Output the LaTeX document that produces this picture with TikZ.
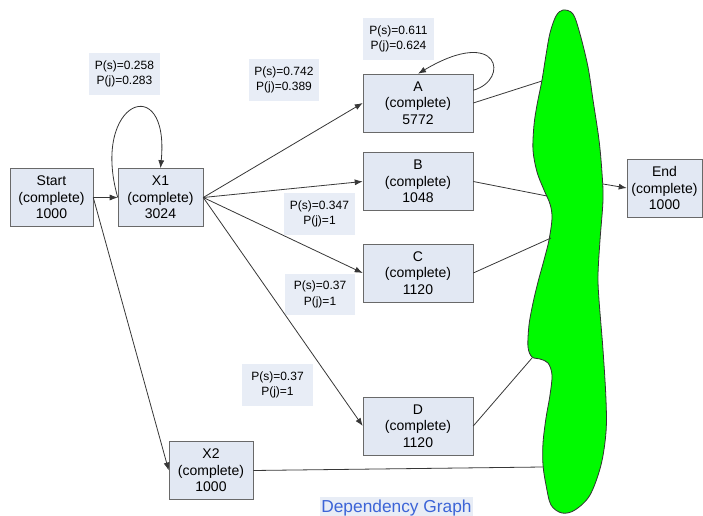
\documentclass[tikz,border=0pt]{standalone}
\usepackage{fontspec}
\setmainfont{Liberation Sans}
\usepackage{tikz}
\usetikzlibrary{arrows.meta,positioning}
\definecolor{boxfill}{RGB}{226,232,243}
\definecolor{notefill}{RGB}{232,237,246}
\definecolor{boxline}{RGB}{105,105,105}
\definecolor{edgegray}{RGB}{55,55,55}
\definecolor{titleblue}{RGB}{60,100,215}
\definecolor{blobgreen}{RGB}{0,250,0}

\begin{document}
\begin{tikzpicture}[
		x=0.75pt, y=-0.75pt,
		font=\fontsize{10.5}{12.5}\selectfont,
		task/.style={draw=boxline, fill=boxfill, align=center, minimum width=82.5pt, minimum height=43.5pt, inner sep=1pt},
		note/.style={fill=notefill, align=center, font=\fontsize{9}{11.5}\selectfont, minimum width=53pt, minimum height=31pt, inner sep=1pt},
		flow/.style={->, draw=edgegray, line width=0.6pt, >={Latex[length=6pt,width=4.5pt]}},
		blobline/.style={draw=edgegray, line width=0.6pt}
		]
		\useasboundingbox (0,0) rectangle (703,516);
		
		% Join region
		\filldraw[fill=blobgreen, draw=black!80, line width=0.6pt] plot[smooth cycle, tension=0.55] coordinates {
			(563,10) (573,14) (580,34) (588,67) (593,100) (599,140) (602,173) (603,200)
			(600,240) (598,275) (599,300) (603,350) (606,400) (606,432) (601,465) (590,495)
			(575,510) (562,513) (551,505) (546,485) (543,465) (543,443) (546,418) (550,395)
			(552,375) (548,363) (540,359) (532,357) (528,347) (529,325) (533,303) (538,282)
			(544,260) (549,240) (552,218) (550,204) (544,190) (537,172) (533,150) (534,125)
			(537,105) (542,80) (546,55) (550,33) (556,16)};
		\coordinate (gA) at (542,81);
		\coordinate (gB) at (547,196);
		\coordinate (gC) at (551,238);
		\coordinate (gD) at (532,358);
		\coordinate (gX2) at (543,467);
		\coordinate (gEnd) at (603,184);
		
		% Jobs
		\node[task, minimum width=62.25pt] (start) at (51.5,197.5) {Start\\(complete)\\1000};
		\node[task, minimum width=63.75pt] (X1) at (160.5,197.5) {X1\\(complete)\\3024};
		\node[task] (A) at (418,103) {A\\(complete)\\5772};
		\node[task] (B) at (418,181.5) {B\\(complete)\\1048};
		\node[task] (C) at (418,273) {C\\(complete)\\1120};
		\node[task] (D) at (418,426) {D\\(complete)\\1120};
		\node[task, minimum width=63pt] (X2) at (211,470.5) {X2\\(complete)\\1000};
		\node[task, minimum width=56.25pt] (End) at (664.5,188) {End\\(complete)\\1000};
		
		% Probabilities
		\node[note] (pX1) at (124.5,74) {P(s)=0.258\\P(j)=0.283};
		\node[note] (pA) at (284,80) {P(s)=0.742\\P(j)=0.389};
		\node[note] (pAA) at (398.5,39) {P(s)=0.611\\P(j)=0.624};
		\node[note] (pC) at (319.5,214) {P(s)=0.347\\P(j)=1};
		\node[note] (pD) at (320,294.5) {P(s)=0.37\\P(j)=1};
		\node[note] (pX2) at (277.5,385) {P(s)=0.37\\P(j)=1};
		\node[note, text=titleblue, font=\fontsize{13}{15}\selectfont, minimum width=114.75pt, minimum height=16.5pt] (title) at (396.5,508) {Dependency Graph};
		
		% Edges
		\draw[flow] (start) -- (X1);
		\draw[flow] (start.east) -- (X2.west);
		\draw[flow] (X1.east) -- (A.west);
		\draw[flow] (X1.east) -- (B.west);
		\draw[flow] (X1.east) -- (C.west);
		\draw[flow] (X1.east) -- (D.west);
		\draw[flow] (X1.west) .. controls (90,100) and (170,70) .. (X1.north);
		\draw[flow] (A.13) .. controls (510,80) and (500,25) .. (A.north);
		\draw[blobline] (A.east) -- (gA);
		\draw[blobline] (B.east) -- (gB);
		\draw[blobline] (C.east) -- (gC);
		\draw[blobline] (D.east) -- (gD);
		\draw[blobline] (X2.east) -- (gX2);
		\draw[flow] (gEnd) -- (End.west);
		\end{tikzpicture}
\end{document}
